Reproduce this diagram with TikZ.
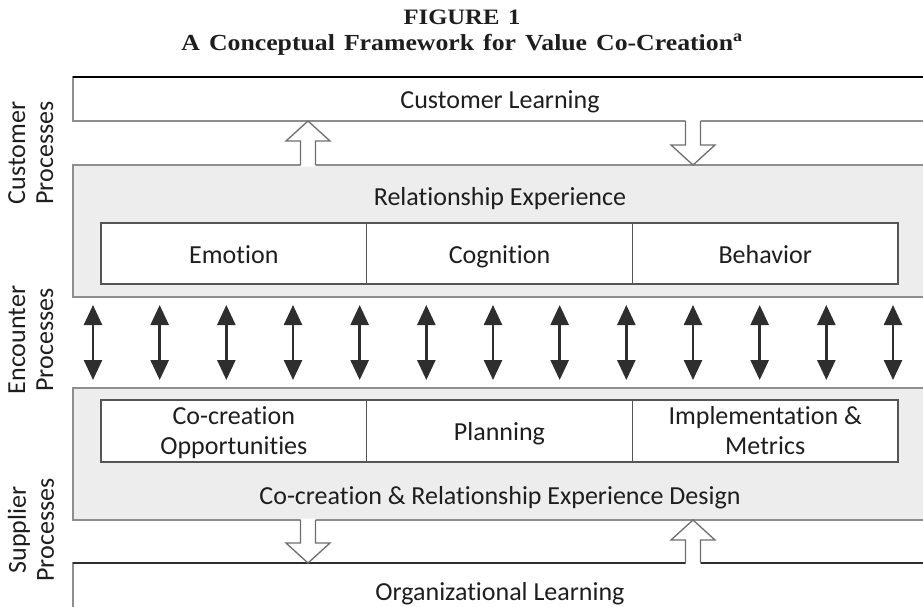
\documentclass[tikz,border=0pt]{standalone}
\usepackage{fontspec}
\setmainfont{Carlito}[Ligatures=NoCommon]
\newfontfamily\capfont{Liberation Serif}[FakeStretch=1.12,WordSpace=1.4]
\usetikzlibrary{calc,arrows.meta}

\definecolor{panel}{HTML}{EDEDED}
\definecolor{rim}{HTML}{8E8E8E}
\definecolor{cellrim}{HTML}{555555}
\definecolor{ink}{HTML}{1E1E1E}
\definecolor{dark}{HTML}{2E2E2E}
\definecolor{hollowrim}{HTML}{6E6E6E}

\tikzset{
  txt/.style={font=\fontsize{26}{29.5}\selectfont, text=ink, inner sep=0pt, align=center,
    execute at begin node=\strut},
  plaintxt/.style={font=\fontsize{26}{29.5}\selectfont, text=ink, inner sep=0pt},
  band/.style={draw=rim, line width=1.8pt, anchor=north west, minimum width=900pt,
    inner sep=0pt, outer sep=0pt, fill=white},
  panelbox/.style={band, fill=panel},
  cell/.style={draw=cellrim, line width=1.2pt, fill=white, anchor=north west,
    minimum width=265.67pt, inner sep=0pt, outer sep=0pt},
  celltext/.style={txt, yshift=-4pt},
  sidelabel/.style={txt, rotate=90, font=\fontsize{26}{28}\selectfont},
  twoway/.style={draw=dark, line width=2.6pt, >={Triangle[width=18pt,length=20pt]}, <->,
    shorten <=8pt, shorten >=8pt},
  hollow/.style={draw=hollowrim, line width=1.3pt, line join=miter},
  captitle/.style={font=\capfont\bfseries\fontsize{23}{26}\selectfont, text=ink, inner sep=0pt}
}

% hollow block arrow from a base point (#1) to a tip point (#2), vertical
\newcommand{\hollowarrow}[2]{%
  \fill[white] let \p1=(#1), \p2=(#2), \n1={sign(\y2-\y1)} in
    ({\x1-7.5pt},{\y1-(\n1)*1.5pt}) -- ({\x1-7.5pt},{\y2-(\n1)*20pt}) -- ({\x1-22pt},{\y2-(\n1)*20pt})
    -- (\x2,\y2) -- ({\x1+22pt},{\y2-(\n1)*20pt}) -- ({\x1+7.5pt},{\y2-(\n1)*20pt})
    -- ({\x1+7.5pt},{\y1-(\n1)*1.5pt}) -- cycle;
  \draw[hollow] let \p1=(#1), \p2=(#2), \n1={sign(\y2-\y1)} in
    ({\x1-7.5pt},\y1) -- ({\x1-7.5pt},{\y2-(\n1)*20pt}) -- ({\x1-22pt},{\y2-(\n1)*20pt})
    -- (\x2,\y2) -- ({\x1+22pt},{\y2-(\n1)*20pt}) -- ({\x1+7.5pt},{\y2-(\n1)*20pt})
    -- ({\x1+7.5pt},\y1);
}

\begin{document}
\begin{tikzpicture}[x=1pt,y=-1pt]
\useasboundingbox (0,0) rectangle (923,606);

% caption
\node[captitle, font=\capfont\bfseries\fontsize{22}{26}\selectfont] (fig) at (462,17) {FIGURE 1};
\node[captitle] (title) at (462,45) {A Conceptual Framework for Value Co-Creation\textsuperscript{a}};

\begin{scope}
\clip (0,0) rectangle (923,606);

% customer learning band
\node[band, minimum height=44pt] (cl) at (73,77) {};
\draw[black, line width=1.6pt] (cl.north west) -- (cl.north east);
\node[txt] (cltext) at (500,103) {Customer Learning};

% relationship experience panel
\node[panelbox, minimum height=132pt] (rel) at (73,165) {};
\node[txt] (reltext) at (500,200) {Relationship Experience};
\node[cell, minimum height=61pt] (emo) at (101,223) {};
\node[cell, minimum height=61pt] (cog) at (emo.north east) {};
\node[cell, minimum height=61pt] (beh) at (cog.north east) {};
\node[celltext] (emotext) at (emo.center) {Emotion};
\node[celltext] (cogtext) at (cog.center) {Cognition};
\node[celltext] (behtext) at (beh.center) {Behavior};

% co-creation design panel
\node[panelbox, minimum height=132pt] (sup) at (73,388) {};
\node[cell, minimum height=62pt] (opp) at (101,400) {};
\node[cell, minimum height=62pt] (plan) at (opp.north east) {};
\node[cell, minimum height=62pt] (impl) at (plan.north east) {};
\node[celltext] (opptext) at (opp.center) {Co-creation\\\strut Opportunities};
\node[celltext] (plantext) at (plan.center) {Planning};
\node[celltext] (impltext) at (impl.center) {Implementation \&\\\strut Metrics};
\node[txt] (suptext) at (500,499) {Co-creation \& Relationship Experience Design};

% organizational learning band
\node[band, minimum height=70pt] (org) at (73,563) {};
\draw[dark, line width=1.6pt] (org.north west) -- (org.north east);
\node[plaintxt] (orgtext) at (500,594) {Organizational Learning};

% side labels
\node[sidelabel] (custlab) at (35,153) {Customer\\Processes};
\node[sidelabel] (enclab) at (35,340) {Encounter\\Processes};
\node[sidelabel] (suplab) at (35,530) {Supplier\\Processes};

% encounter arrows
\foreach \i in {0,...,12} {
  \pgfmathsetmacro\xx{93+66.667*\i}
  \path (\xx,0) coordinate (ex);
  \draw[twoway] (rel.south -| ex) -- (sup.north -| ex);
}

% learning flows
\path (308,0) coordinate (lx) (693,0) coordinate (rx);
\hollowarrow{rel.north -| lx}{cl.south -| lx}
\hollowarrow{cl.south -| rx}{rel.north -| rx}
\hollowarrow{sup.south -| lx}{org.north -| lx}
\hollowarrow{org.north -| rx}{sup.south -| rx}
\end{scope}
\end{tikzpicture}
\end{document}
